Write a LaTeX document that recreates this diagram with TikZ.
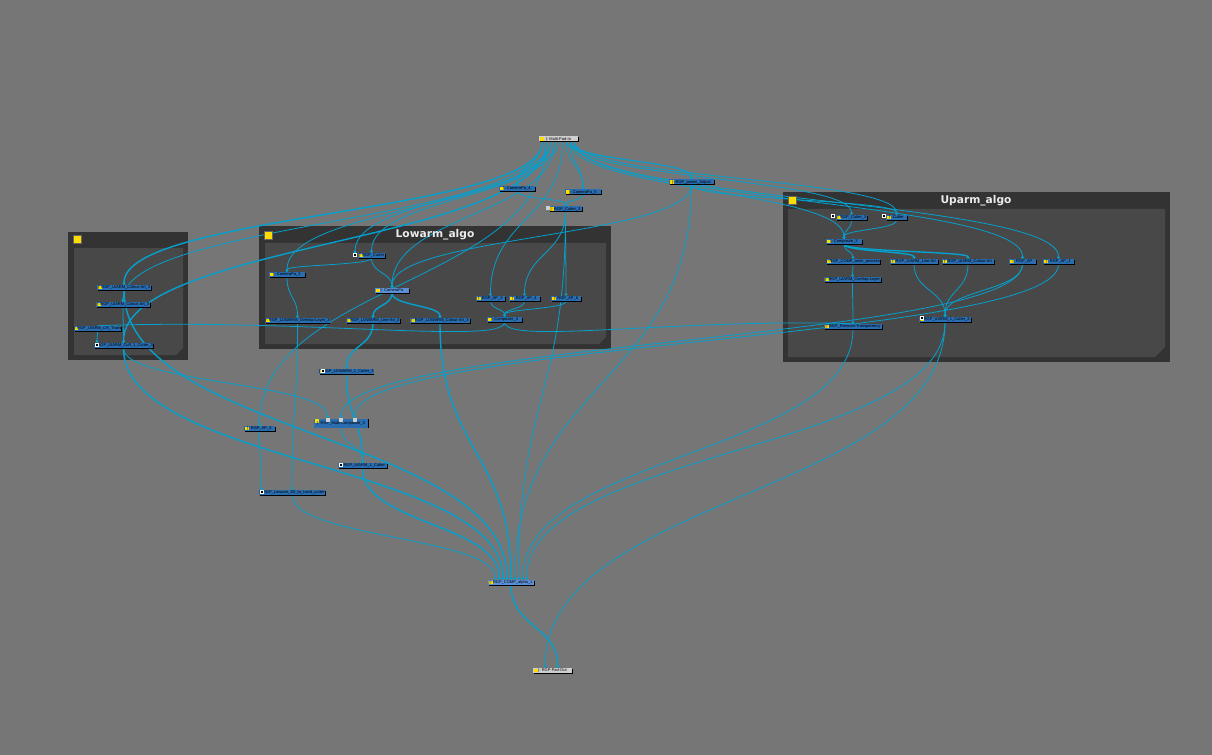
\documentclass[tikz,border=0pt]{standalone}
\usepackage{fontspec}
\setmainfont{Liberation Sans}
\newfontfamily\titulofont{DejaVu Sans}
\usetikzlibrary{arrows.meta,calc,shadows,backgrounds}

\definecolor{fondo}{HTML}{767676}
\definecolor{marco}{HTML}{333333}
\definecolor{panel}{HTML}{484848}
\definecolor{azul}{HTML}{2A6DB0}
\definecolor{azulclaro}{HTML}{5B8FD6}
\definecolor{gris}{HTML}{CFCFCF}
\definecolor{hilo}{HTML}{04A0CE}
\definecolor{amarillo}{HTML}{FFDD00}

\def\px{.75pt}

\begin{document}
\begin{tikzpicture}[
  x=.75pt, y=-.75pt,
  nodo/.style={fill=azul, minimum height=5*\px, inner sep=0pt, text=black,
               font=\fontsize{3}{3}\selectfont,
               drop shadow={shadow xshift=.6pt, shadow yshift=-.6pt, fill=black, opacity=1},
               path picture={\fill[amarillo]
                 ([xshift=.8pt,yshift=-.6pt]path picture bounding box.north west)
                 rectangle ++(2.6pt,-2.6pt);}},
  claro/.style={nodo, fill=azulclaro},
  extremo/.style={nodo, fill=gris},
  icono/.style={fill=black, draw=white, line width=.5pt, minimum size=3*\px, inner sep=0pt},
  damero/.style={fill=gris, minimum size=4*\px, inner sep=0pt},
  titulo/.style={font=\titulofont\bfseries\fontsize{8}{8}\selectfont, text=white!92!black},
  marca/.style={fill=amarillo, draw=black!60, line width=.3pt, minimum size=8*\px, inner sep=0pt},
  hilos/.style={to path={.. controls ($(\tikztostart)!.5!(\tikztostart|-\tikztotarget)$)
                 and ($(\tikztotarget)!.5!(\tikztotarget|-\tikztostart)$) .. (\tikztotarget)},
                draw=hilo, -{Circle[length=2pt]}},
  cable/.style={hilos, line width=1.05pt},
  cablefino/.style={hilos, line width=.6pt},
]
  \begin{scope}[on background layer]
    \fill[fondo] (0,0) rectangle (1212,755);
    % grupos
    \fill[marco] (68,232) rectangle (188,360);
    \fill[panel] (74,248) -- (183,248) -- (183,348) -- (176,355) -- (74,355) -- cycle;
    \fill[marco] (259,226) rectangle (611,349);
    \fill[panel] (265,243) -- (606,243) -- (606,337) -- (599,344) -- (265,344) -- cycle;
    \fill[marco] (783,192) rectangle (1170,362);
    \fill[panel] (788,209) -- (1165,209) -- (1165,347) -- (1155,357) -- (788,357) -- cycle;
  \end{scope}
  \useasboundingbox (0,0) rectangle (1212,755);

  \node[marca] (marcaleft) at (77.5,239.5) {};
  \node[marca] (marcalow) at (268,235) {};
  \node[marca] (marcaup) at (792,200.5) {};
  \node[titulo] (lowarm) at (435,235) {Lowarm\_algo};
  \node[titulo] (uparm) at (976,201) {Uparm\_algo};

  % entrada y salida
  \node[extremo, minimum width=39*\px] (padin) at (558.5,139) {|- Multi-Pad-In};
  \node[extremo, minimum width=39*\px] (padout) at (552.5,670.5) {|- RGP-Pad-Out};

  % arriba
  \node[nodo, minimum width=36*\px] (cam4) at (517,188.5) {|- CameraPa\_4};
  \node[nodo, minimum width=36*\px] (cam5) at (583,192) {|- CameraPa\_5};
  \node[nodo, minimum width=33*\px] (topcut) at (565.5,209) {|- RGP\_Cutter\_3};
  \node[nodo, minimum width=45*\px] (power) at (691.5,182) {|- RGP\_power\_Adjust};

  % grupo izquierdo
  \node[nodo, minimum width=54*\px] (uacol1) at (124,287.5) {|- RGP\_UIARM\_Colour-Art\_3};
  \node[nodo, minimum width=54*\px] (uacol2) at (123,304.5) {|- RGP\_UIARM\_Colour-Art\_3};
  \node[nodo, minimum width=47*\px] (uacr) at (97.5,328.5) {|- RGP\_UIARM\_CR\_Trans};
  \node[nodo, minimum width=55*\px] (uacut) at (123.5,345.5) {|- RGP\_UIARM\_Cuff\_1\_Cutter\_3};

  % Lowarm
  \node[nodo, minimum width=27*\px] (lowcut) at (371.5,255.5) {|- RGP\_Cutter};
  \node[nodo, minimum width=36*\px] (cam3) at (287,274.5) {|- CameraPa\_3};
  \node[claro, minimum width=34*\px] (lowcam) at (392,290.5) {|- CameraPa};
  \node[nodo, minimum width=63*\px] (lowlap) at (297.5,320.5) {|- RGP\_LOWARM\_Overlap-Layer\_3};
  \node[nodo, minimum width=54*\px] (lowline) at (373,320.5) {|- RGP\_LOWARM\_Line-Art\_3};
  \node[nodo, minimum width=60*\px] (lowcol) at (440,320.5) {|- RGP\_LOWARM\_Colour-Art\_3};
  \node[nodo, minimum width=29*\px] (ap3) at (490.5,298.5) {|- RGP\_AP\_3};
  \node[nodo, minimum width=31*\px] (ap4) at (524.5,298.5) {|- RGP\_AP\_4};
  \node[nodo, minimum width=30*\px] (ap6) at (566,298.5) {|- RGP\_AP\_6};
  \node[nodo, minimum width=35*\px] (comp3) at (504.5,319.5) {|- Composite\_3};

  % Uparm
  \node[nodo, minimum width=31*\px] (upcut3) at (851.5,217.5) {|- RGP\_Cutter\_3};
  \node[nodo, minimum width=21*\px] (upcut) at (896.5,217.5) {|- Cutter};
  \node[nodo, minimum width=36*\px] (upcomp) at (844,241.5) {|- Composite\_3};
  \node[nodo, minimum width=54*\px] (upanim) at (853,261.5) {|- RGP\_COMP\_anim\_process};
  \node[nodo, minimum width=48*\px] (upline) at (914,261.5) {|- RGP\_UIARM\_Line-Art};
  \node[nodo, minimum width=52*\px] (upcol) at (968,261.5) {|- RGP\_UIARM\_Colour-Art};
  \node[nodo, minimum width=27*\px] (upap) at (1022.5,261.5) {|- RGP\_AP};
  \node[nodo, minimum width=31*\px] (upap1) at (1058.5,261.5) {|- RGP\_AP\_1};
  \node[nodo, minimum width=57*\px] (uplap) at (852.5,279.5) {|- RGP\_UIARM\_Overlap-Layer};
  \node[nodo, minimum width=52*\px] (upcuff) at (945,319.5) {|- RGP\_UIARM\_1\_Cutter\_3};
  \node[nodo, minimum width=58*\px] (remove) at (853,326.5) {|- RGP\_Remove-Transparency};

  % fuera de los grupos
  \node[nodo, minimum width=52*\px] (lowcuff) at (346.5,371.5) {|- RGP\_LOWARM\_1\_Cutter\_3};
  \node[nodo, minimum width=31*\px] (ap5) at (259.5,428.5) {|- RGP\_AP\_5};
  \node[nodo, minimum width=54*\px, minimum height=9*\px, text depth=-1pt] (multi) at (341,423) {|- RGP\_Multi-Composite\_3};
  \node[nodo, minimum width=49*\px] (midcut) at (362.5,465.5) {|- RGP\_UIARM\_1\_Cutter};
  \node[nodo, minimum width=66*\px] (hand) at (292,492.5) {|- RGP\_Lowarm\_3D\_to\_hand\_cutter};
  \node[claro, minimum width=46*\px] (merge) at (511,582.5) {|- RGP\_COMP\_alpha\_1};

  % iconos
  \node[icono] (icolowcut) at (355,255) {};
  \node[icono] (icoupcut3) at (833,216) {};
  \node[icono] (icoupcut) at (884,216) {};
  \node[icono] (icoupcuff) at (922,318) {};
  \node[icono] (icolowcuff) at (323,370.5) {};
  \node[icono] (icomidcut) at (341,464.5) {};
  \node[icono] (icohand) at (261.5,492) {};
  \node[icono] (icouacut) at (97,344.5) {};
  \node[damero] (icotop) at (548,208.5) {};
  \node[damero] (mul1) at (327.5,420) {};
  \node[damero] (mul2) at (341,420) {};
  \node[damero] (mul3) at (354.5,420) {};

  % puertos
  \foreach \i in {1,...,9} {
    \coordinate (pin\i) at ([xshift={(\i-5)*3pt}]padin.south);
    \coordinate (min\i) at ([xshift={(\i-5)*2.9pt}]merge.north);
  }
  \coordinate (outa) at ([xshift=-5.5pt]padout.north);
  \coordinate (outb) at ([xshift=4pt]padout.north);

  \begin{scope}[on background layer]
    % desde la entrada
    \draw[cable] (pin1) to (uacol1.north);
    \draw[cable] (pin2) to (uacut.north);
    \foreach \a/\b in {pin1/uacol2.north, pin2/ap5.north, pin3/cam3.north, pin3/icolowcut.north,
                       pin4/lowcut.north, pin4/lowcam.north, pin5/cam4.north, pin3/cam4.north,
                       pin6/ap3.north, pin7/cam5.north, pin8/cam5.north, pin7/power.north,
                       pin8/power.north, pin8/upcomp.north, pin8/upcut3.north, pin9/upcut.north,
                       pin9/upap.north, pin9/upap1.north} {
      \draw[cablefino] (\a) to (\b);
    }
    \foreach \a/\b in {cam4.south/topcut.north, cam5.south/topcut.north, topcut.south/ap4.north,
                       topcut.south/ap6.north, topcut.south/min7, power.south/lowcam.north,
                       power.south/upcut.north, power.south/min6, uacol1.south/uacol2.north,
                       uacol2.south/uacut.north, uacr.south/icouacut.north, uacut.south/mul1.north,
                       upap.south/mul2.north, upap1.south/mul3.north, multi.south/midcut.north,
                       lowcut.south/lowcam.north, lowcut.south/cam3.north, cam3.south/lowlap.north,
                       lowlap.south/hand.north, ap5.south/icohand.north, hand.south/min1,
                       ap3.south/comp3.north, ap4.south/comp3.north, ap6.south/comp3.north,
                       upcut3.south/upcomp.north, upcut.south/upcomp.north, upcomp.south/upanim.north,
                       upanim.south/uplap.north, uplap.south/remove.north, upline.south/upcuff.north,
                       upcol.south/upcuff.north, upap.south/upcuff.north, remove.south/min8,
                       upcuff.south/min9, upcuff.south/outa} {
      \draw[cablefino] (\a) to (\b);
    }
    \draw[cable] (lowcam.south) to (lowline.north);
    \draw[cable] (lowcam.south) to (lowcol.north);
    \draw[cable] (lowline.south) to (lowcuff.north);
    \draw[cable] (lowcuff.south) to (midcut.north);
    \draw[cable] (uacol1.south) to (min4);
    \draw[cable] (uacut.south) to (min3);
    \draw[cable] (midcut.south) to (min2);
    \draw[cable] (lowcol.south) to (min5);
    \draw[cable] (upcomp.south) to (upline.north);
    \draw[cable] (upcomp.south) to (upcol.north);
    \draw[cable] (merge.south) to (outb);
    % los dos cables largos
    \draw[draw=hilo, line width=.6pt] (comp3.south) .. controls (505,345) and (300,318) .. (uacr.north);
    \draw[draw=hilo, line width=.6pt] (comp3.south) .. controls (505,345) and (680,318) .. (remove.north);
  \end{scope}
\end{tikzpicture}
\end{document}
